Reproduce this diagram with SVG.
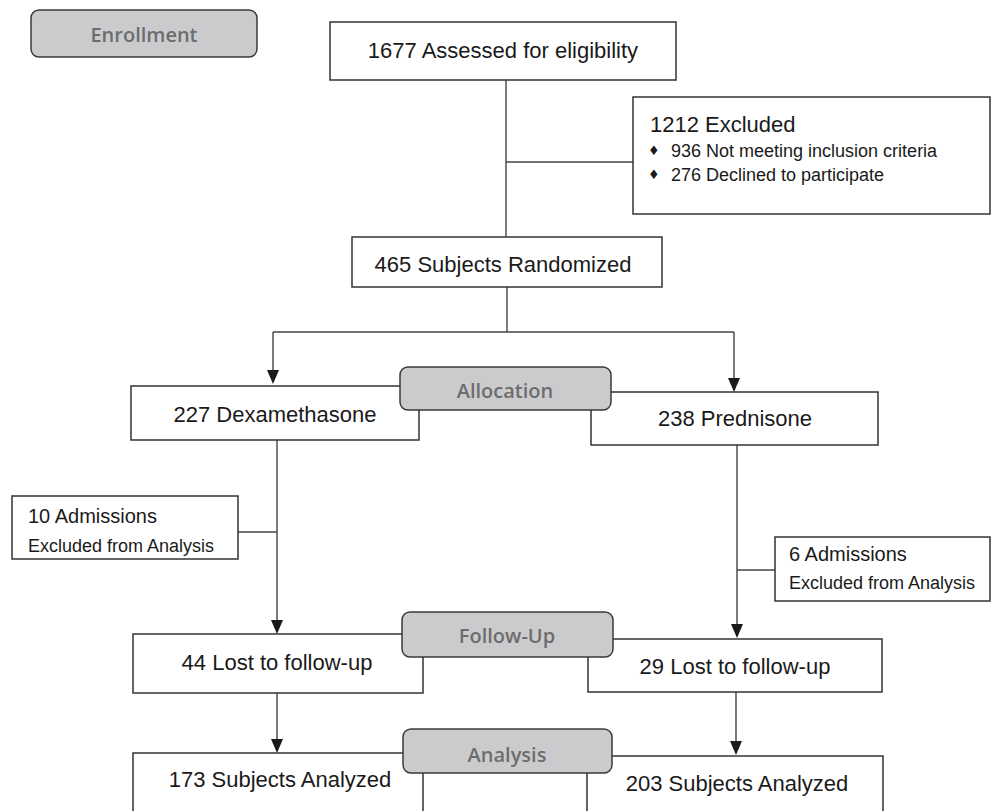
<svg xmlns="http://www.w3.org/2000/svg" width="992" height="811" viewBox="0 0 992 811">
<defs>
<style>
.box{fill:#fff;stroke:#333;stroke-width:1.5}
.stage{fill:#cbcbcd;stroke:#3a3a3a;stroke-width:1.5}
.st{font-family:"Open Sans","Liberation Sans",sans-serif;font-weight:600;font-size:20px;fill:#6d6d6d;text-anchor:middle}
.t{font-family:"Liberation Sans",Arial,sans-serif;font-size:22px;fill:#1a1a1a;text-anchor:middle}
.s{font-family:"Liberation Sans",Arial,sans-serif;font-size:18px;fill:#1a1a1a}
.ln{fill:none;stroke:#444;stroke-width:1.4}
.bul{font-family:"DejaVu Sans",sans-serif;font-size:13px;fill:#1a1a1a}
.ah{fill:#1a1a1a}
</style>
</defs>
<rect width="992" height="811" fill="#fff"/>

<g id="connectors">
<line class="ln" x1="506" y1="80" x2="506" y2="237"/>
<line class="ln" x1="506" y1="162" x2="633" y2="162"/>
<line class="ln" x1="507" y1="287" x2="507" y2="332"/>
<line class="ln" x1="273" y1="332" x2="734" y2="332"/>
<line class="ln" x1="273" y1="332" x2="273" y2="372"/>
<path class="ah" d="M267,370 L279,370 L273,384 Z"/>
<line class="ln" x1="734" y1="332" x2="734" y2="380"/>
<path class="ah" d="M728,378 L740,378 L734,392 Z"/>
<line class="ln" x1="277" y1="440" x2="277" y2="622"/>
<line class="ln" x1="238" y1="532" x2="277" y2="532"/>
<path class="ah" d="M271,620 L283,620 L277,634 Z"/>
<line class="ln" x1="737" y1="445" x2="737" y2="626"/>
<line class="ln" x1="737" y1="570" x2="775" y2="570"/>
<path class="ah" d="M731,624 L743,624 L737,638 Z"/>
<line class="ln" x1="277" y1="693" x2="277" y2="741"/>
<path class="ah" d="M271,739 L283,739 L277,753 Z"/>
<line class="ln" x1="736" y1="692" x2="736" y2="743"/>
<path class="ah" d="M730,741 L742,741 L736,755 Z"/>
</g>

<g id="enrollment">
<rect class="stage" x="31" y="10" width="226" height="47" rx="8"/>
<text class="st" x="144" y="42">Enrollment</text>
</g>

<g id="assessed">
<rect class="box" x="330" y="22" width="346" height="58"/>
<text class="t" x="503" y="58">1677 Assessed for eligibility</text>
</g>

<g id="excluded">
<rect class="box" x="633" y="97" width="357" height="117"/>
<text class="t" x="650" y="132" style="text-anchor:start">1212 Excluded</text>
<text class="bul" x="648" y="155">♦</text>
<text class="s" x="671" y="157">936 Not meeting inclusion criteria</text>
<text class="bul" x="648" y="179">♦</text>
<text class="s" x="671" y="181">276 Declined to participate</text>
</g>

<g id="randomized">
<rect class="box" x="352" y="237" width="310" height="50"/>
<text class="t" x="503" y="272">465 Subjects Randomized</text>
</g>

<g id="dexamethasone">
<rect class="box" x="131" y="386" width="288" height="54"/>
<text class="t" x="275" y="422">227 Dexamethasone</text>
</g>

<g id="prednisone">
<rect class="box" x="591" y="392" width="287" height="53"/>
<text class="t" x="735" y="426">238 Prednisone</text>
</g>

<g id="allocation">
<rect class="stage" x="400" y="367" width="211" height="43" rx="8"/>
<text class="st" x="505" y="398">Allocation</text>
</g>

<g id="admissions-left">
<rect class="box" x="12" y="496" width="226" height="63"/>
<text class="s" x="28" y="523" style="font-size:20px">10 Admissions</text>
<text class="s" x="28" y="552">Excluded from Analysis</text>
</g>

<g id="admissions-right">
<rect class="box" x="775" y="537" width="215" height="64"/>
<text class="s" x="789" y="561" style="font-size:20px">6 Admissions</text>
<text class="s" x="789" y="589">Excluded from Analysis</text>
</g>

<g id="lost-left">
<rect class="box" x="133" y="634" width="290" height="59"/>
<text class="t" x="277" y="670">44 Lost to follow-up</text>
</g>

<g id="lost-right">
<rect class="box" x="588" y="639" width="294" height="53"/>
<text class="t" x="735" y="674">29 Lost to follow-up</text>
</g>

<g id="followup">
<rect class="stage" x="402" y="612" width="211" height="45" rx="8"/>
<text class="st" x="507" y="643">Follow-Up</text>
</g>

<g id="analyzed-left">
<rect class="box" x="133" y="753" width="290" height="80"/>
<text class="t" x="280" y="787">173 Subjects Analyzed</text>
</g>

<g id="analyzed-right">
<rect class="box" x="587" y="756" width="296" height="80"/>
<text class="t" x="737" y="791">203 Subjects Analyzed</text>
</g>

<g id="analysis">
<rect class="stage" x="403" y="729" width="209" height="44" rx="8"/>
<text class="st" x="507" y="762">Analysis</text>
</g>
</svg>
